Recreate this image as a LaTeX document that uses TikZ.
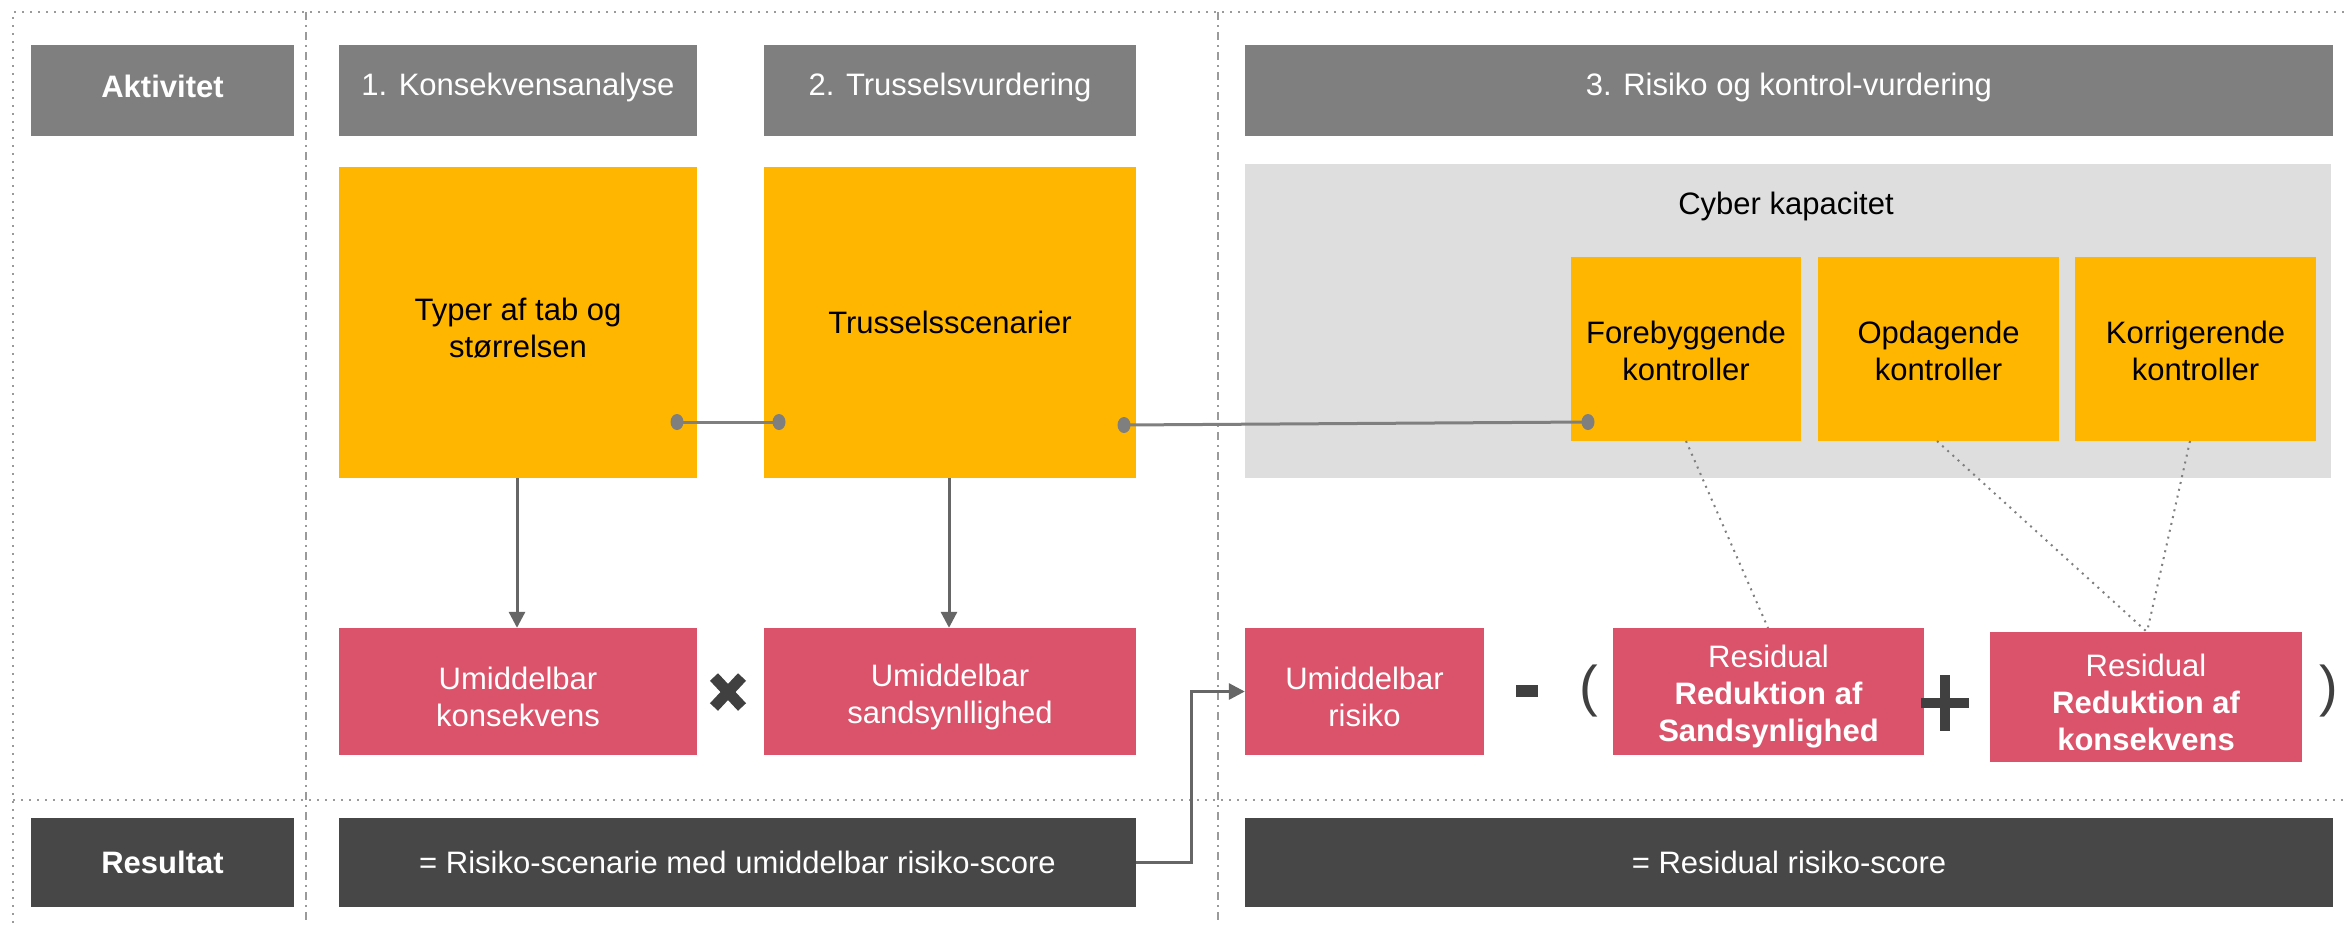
\documentclass[tikz,border=0pt]{standalone}
\usepackage{fontspec}
\setmainfont{Liberation Sans}
\usetikzlibrary{arrows.meta,calc}
\definecolor{hdrgray}{HTML}{7F7F7F}
\definecolor{orng}{HTML}{FFB600}
\definecolor{pnk}{HTML}{DB536A}
\definecolor{drk}{HTML}{474747}
\definecolor{panel}{HTML}{DEDEDE}
\definecolor{conn}{HTML}{7F7F7F}
\definecolor{arr}{HTML}{666666}
\definecolor{opc}{HTML}{404040}
\definecolor{frm}{HTML}{9A9A9A}
\tikzset{
  box/.style={rectangle, inner sep=0pt, align=center, font=\fontsize{31}{37}\selectfont},
  txt/.style={inner sep=0pt, align=center, font=\fontsize{31}{37}\selectfont},
  hdr/.style={box, fill=hdrgray, text=white, minimum height=91pt},
  orbox/.style={box, fill=orng, text=black},
  pkbox/.style={box, fill=pnk, text=white},
  pktxt/.style={txt, text=white},
  dkbox/.style={box, fill=drk, text=white, minimum height=89pt},
  frameline/.style={frm, line width=2pt, dash pattern=on 2pt off 6pt},
  dashdotline/.style={frm, line width=2pt, dash pattern=on 8pt off 5pt on 2pt off 5pt},
  dotconn/.style={conn, line width=3pt},
  dotend/.style={fill=conn, draw=none},
  arrline/.style={arr, line width=3pt, -{Triangle[length=16pt,width=16pt]}},
  thinlink/.style={conn, line width=2pt, dash pattern=on 2pt off 5pt},
  opfill/.style={fill=opc, draw=none},
}
\begin{document}
\begin{tikzpicture}[x=1pt,y=-1pt]
\useasboundingbox (0,0) rectangle (2344,924);
% frame
\coordinate (ftl) at (13,12);
\coordinate (ftr) at (2344,12);
\coordinate (fbl) at (13,924);
\coordinate (fml) at (13,800);
\coordinate (fmr) at (2344,800);
\draw[frameline] (ftr) -- (ftl) -- (fbl);
\draw[frameline] (fml) -- (fmr);
\coordinate (v1t) at (306,12);
\coordinate (v1b) at (306,924);
\coordinate (v2t) at (1218,12);
\coordinate (v2b) at (1218,924);
\draw[dashdotline] (v1t) -- (v1b);
\draw[dashdotline] (v2t) -- (v2b);

% headers
\node[hdr, minimum width=263pt] (akt) at (162.5,90.5) {};
\node[txt, text=white] (akt-t) at (162.5,86.5) {\textbf{Aktivitet}};
\node[hdr, minimum width=358pt] (h1) at (518,90.5) {};
\node[txt, text=white] (h1-t) at (518,87.5) {1. Konsekvensanalyse};
\node[hdr, minimum width=372pt] (h2) at (950,90.5) {};
\node[txt, text=white] (h2-t) at (950,87.5) {2. Trusselsvurdering};
\node[hdr, minimum width=1088pt] (h3) at (1789,90.5) {};
\node[txt, text=white] (h3-t) at (1789,87.5) {3. Risiko og kontrol-vurdering};

% orange boxes
\node[orbox, minimum width=358pt, minimum height=311pt] (typer) at (518,322.5) {};
\node[txt, text=black] (typer-t) at (518,328) {Typer af tab og\\størrelsen};
\node[orbox, minimum width=372pt, minimum height=311pt] (truss) at (950,322.5) {Trusselsscenarier};

% panel
\node[box, fill=panel, minimum width=1086pt, minimum height=314pt] (panel) at (1788,321) {};
\node[box, text=black] (cyber) at (1786,206) {Cyber kapacitet};
\node[orbox, minimum width=230pt, minimum height=184pt] (fore) at (1686,349) {};
\node[txt, text=black] (fore-t) at (1686,351) {Forebyggende\\kontroller};
\node[orbox, minimum width=241pt, minimum height=184pt] (opd) at (1938.5,349) {};
\node[txt, text=black] (opd-t) at (1938.5,351) {Opdagende\\kontroller};
\node[orbox, minimum width=241pt, minimum height=184pt] (korr) at (2195.5,349) {};
\node[txt, text=black] (korr-t) at (2195.5,351) {Korrigerende\\kontroller};

% pink boxes
\node[pkbox, minimum width=358pt, minimum height=127pt] (ukon) at (518,691.5) {};
\node[pktxt] (ukon-t) at (518,696.5) {Umiddelbar\\konsekvens};
\node[pkbox, minimum width=372pt, minimum height=127pt] (usan) at (950,691.5) {};
\node[pktxt] (usan-t) at (950,696.5) {Umiddelbar\\sandsynllighed};
\node[pkbox, minimum width=239pt, minimum height=127pt] (urisk) at (1364.5,691.5) {};
\node[pktxt] (urisk-t) at (1364.5,696.5) {Umiddelbar\\risiko};
\node[pkbox, minimum width=311pt, minimum height=127pt] (ress) at (1768.5,691.5) {};
\node[pktxt] (ress-t) at (1768.5,696.5) {Residual\\\textbf{Reduktion af}\\\textbf{Sandsynlighed}};
\node[pkbox, minimum width=312pt, minimum height=130pt] (resk) at (2146,697) {};
\node[pktxt] (resk-t) at (2146,702) {Residual\\\textbf{Reduktion af}\\\textbf{konsekvens}};

% dark boxes
\node[dkbox, minimum width=263pt] (res) at (162.5,862.5) {\textbf{Resultat}};
\node[dkbox, minimum width=797pt] (scen) at (737.5,862.5) {= Risiko-scenarie med umiddelbar risiko-score};
\node[dkbox, minimum width=1088pt] (rrs) at (1789,862.5) {= Residual risiko-score};

% operators
\coordinate (times) at (728,692);
\draw[opc, line width=11pt] ($(times)+(-14,-15)$) -- ($(times)+(14,15)$);
\draw[opc, line width=11pt] ($(times)+(-14,15)$) -- ($(times)+(14,-15)$);
\node[opfill, minimum width=22pt, minimum height=12pt, inner sep=0pt] (minus) at (1527,691) {};
\node[inner sep=0pt, text=opc, font=\fontsize{56}{60}\selectfont] (lpar) at (1589,691) {(};
\node[inner sep=0pt, text=opc, font=\fontsize{56}{60}\selectfont] (rpar) at (2329,691) {)};
\node[opfill, minimum width=48pt, minimum height=10pt, inner sep=0pt] (plush) at (1945,703) {};
\node[opfill, minimum width=10pt, minimum height=56pt, inner sep=0pt] (plusv) at (1945,703) {};

% vertical arrows
\coordinate (a1s) at ($(typer.south)+(-1,0)$);
\coordinate (a2s) at ($(truss.south)+(-1,0)$);
\draw[arrline] (a1s) -- (a1s |- ukon.north);
\draw[arrline] (a2s) -- (a2s |- usan.north);

% dot connectors
\coordinate (d1) at (677,422);
\coordinate (d2) at (779,422);
\coordinate (d3) at (1124,425);
\coordinate (d4) at (1588,422);
\draw[dotconn] (d1) -- (d2);
\draw[dotconn] (d3) -- (d4);
\foreach \d in {d1,d2,d3,d4} { \fill[dotend] (\d) ellipse (6.5pt and 8pt); }

% elbow
\coordinate (elb) at (1191,0);
\draw[arrline] (scen.east) -| (elb |- urisk.west) -- (urisk.west);

% dotted links
\coordinate (l1) at (1686,441);
\coordinate (l2) at (1768,628);
\coordinate (l3) at (1937,441);
\coordinate (l4) at (2147,632);
\coordinate (l5) at (2190,441);
\draw[thinlink] (l1) -- (l2);
\draw[thinlink] (l3) -- (l4);
\draw[thinlink] (l5) -- (l4);
\end{tikzpicture}
\end{document}
